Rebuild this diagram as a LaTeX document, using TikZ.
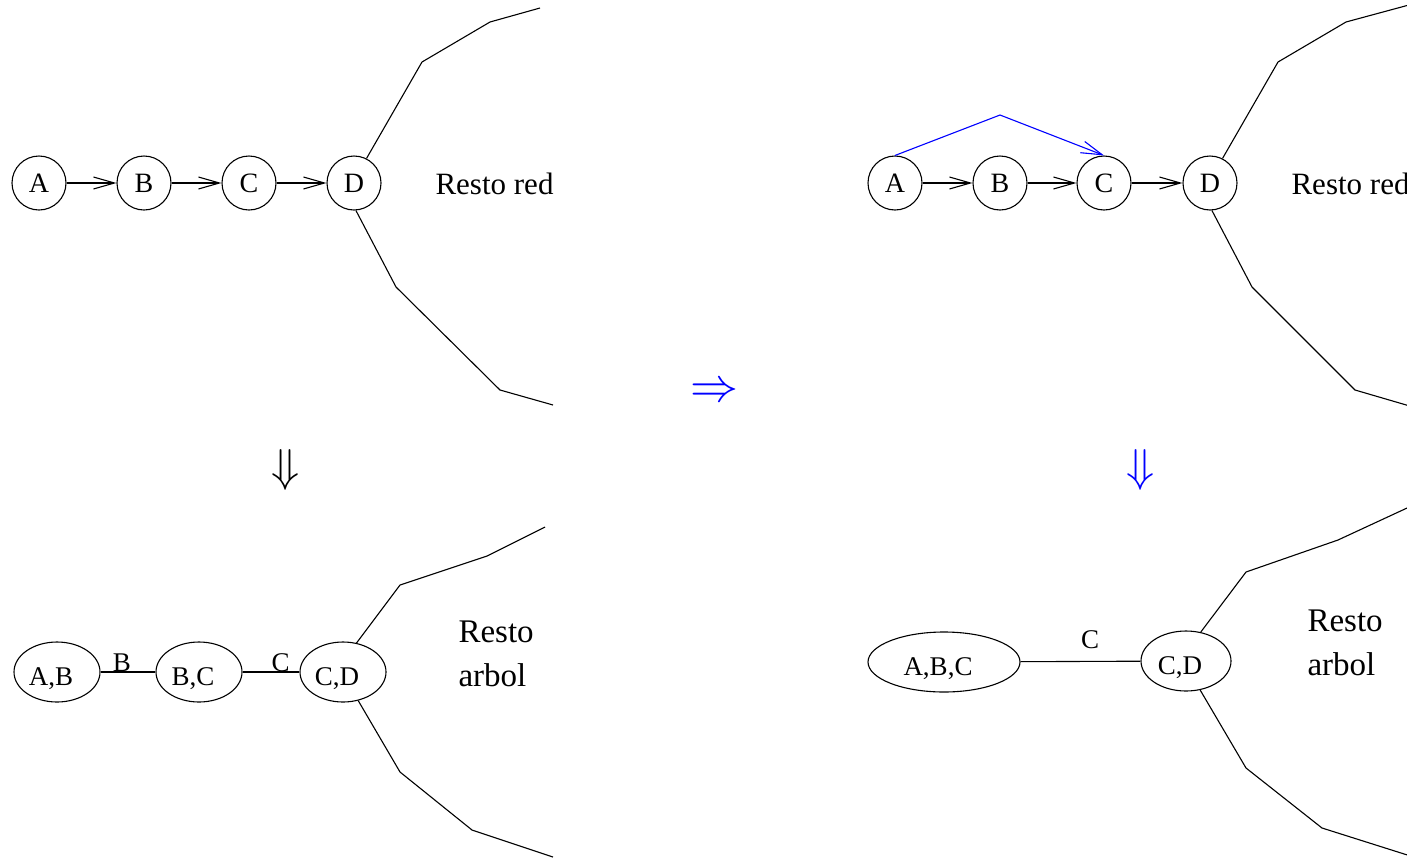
\documentclass[tikz,border=0pt]{standalone}
\usepackage{fontspec}
\setmainfont{Liberation Serif}
\usetikzlibrary{shapes.geometric,arrows.meta}
\begin{document}
\begin{tikzpicture}[x=1pt,y=-1pt,
  line width=1.1pt,
  state/.style={circle,draw,minimum size=54pt,inner sep=0pt,font=\fontsize{28}{30}\selectfont},
  clique/.style={ellipse,draw,minimum width=86pt,minimum height=60pt,inner sep=0pt,
    text height=26pt,text depth=0pt,font=\fontsize{27}{30}\selectfont,
    execute at end node={\hspace*{12pt}}},
  flow/.style={-{Straight Barb[length=21pt,width=12pt]}},
  rest/.style={font=\fontsize{31}{33}\selectfont,anchor=west,inner sep=0pt},
  restml/.style={font=\fontsize{33}{44}\selectfont,anchor=west,align=left,inner sep=0pt},
  sep/.style={font=\fontsize{27}{30}\selectfont,anchor=south,inner sep=0pt},
  bigsym/.style={inner sep=0pt},
  ]
\useasboundingbox (0,0) rectangle (1407,857);

% ---- original network (top left)
\node[state] (A1) at (39,183) {A};
\node[state] (B1) at (144,183) {B};
\node[state] (C1) at (249,183) {C};
\node[state] (D1) at (354,183) {D};
\draw[flow] (A1) -- (B1);
\draw[flow] (B1) -- (C1);
\draw[flow] (C1) -- (D1);
\draw (D1.63) -- (422,62) -- (490,22) -- (540,8);
\draw (D1.-86) -- (396,287) -- (500,390) -- (553,405);
\node[rest] (R1) at (435,184) {Resto red};

% ---- network with added link (top right)
\node[state] (A2) at (895,183) {A};
\node[state] (B2) at (1000,183) {B};
\node[state] (C2) at (1104,183) {C};
\node[state] (D2) at (1210,183) {D};
\draw[flow] (A2) -- (B2);
\draw[flow] (B2) -- (C2);
\draw[flow] (C2) -- (D2);
\coordinate (apex) at (1000,115);
\draw[blue,flow] (A2.north) -- (apex) -- (C2.north);
\draw (D2.63) -- (1278,62) -- (1346,22) -- (1420,2);
\draw (D2.-86) -- (1252,287) -- (1355,390) -- (1420,409);
\node[rest] (R2) at (1291,184) {Resto red};

% ---- transformation symbols
\node[bigsym,blue] (T) at (714,393) {\scalebox{4.8}{$\Rightarrow$}};
\node[bigsym] (DL) at (286,470) {\scalebox{4.6}{$\Downarrow$}};
\node[bigsym,blue] (DR) at (1141,470) {\scalebox{4.6}{$\Downarrow$}};

% ---- junction tree (bottom left)
\node[clique] (AB) at (57,672) {A,B};
\node[clique] (BC) at (199,672) {B,C};
\node[clique] (CD) at (343,672) {C,D};
\draw (AB) -- node[sep,pos=0.39] {B} (BC);
\draw (BC) -- node[sep,pos=0.67] {C} (CD);
\draw (CD.65) -- (400,585) -- (487,556) -- (545,527);
\draw (CD.-62) -- (400,772) -- (472,830) -- (553,857);
\node[restml] (RA1) at (458,654) {Resto\\arbol};

% ---- junction tree (bottom right)
\node[clique,minimum width=152pt] (ABC) at (944,662) {A,B,C};
\node[clique,minimum width=90pt] (CD2) at (1186,661) {C,D};
\draw (ABC) -- node[sep,pos=0.58,yshift=12pt] {C} (CD2);
\draw (CD2.63) -- (1246,572) -- (1338,540) -- (1420,502);
\draw (CD2.-64) -- (1246,768) -- (1322,828) -- (1420,859);
\node[restml] (RA2) at (1307,643) {Resto\\arbol};
\end{tikzpicture}
\end{document}
